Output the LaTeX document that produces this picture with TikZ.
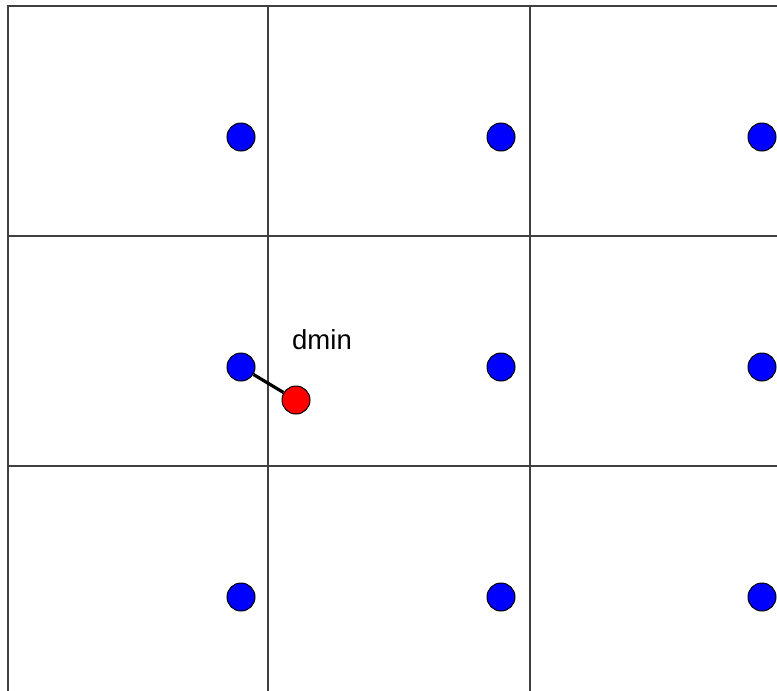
\documentclass[tikz,border=0pt]{standalone}
\usepackage{fontspec}
\setmainfont{Liberation Sans}
\tikzset{
  grille/.style={draw=black!75, line width=1.6pt},
  pointbleu/.style={circle, fill=blue, draw=black, line width=1pt, minimum size=28pt, inner sep=0pt},
  pointrouge/.style={circle, fill=red, draw=black, line width=1pt, minimum size=28pt, inner sep=0pt}
}
\begin{document}
\begin{tikzpicture}[x=1pt,y=-1pt]
  \useasboundingbox (0,0) rectangle (777,691);
  % les cases
  \draw[grille] (8,691) -- (8,6) -- (777,6);
  \draw[grille] (268,6) -- (268,691);
  \draw[grille] (530,6) -- (530,691);
  \draw[grille] (8,236) -- (777,236);
  \draw[grille] (8,466) -- (777,466);
  % les points de la grille
  \node[pointbleu] (b11) at (241,137) {};
  \node[pointbleu] (b12) at (501,137) {};
  \node[pointbleu] (b13) at (762,137) {};
  \node[pointbleu] (b21) at (241,367) {};
  \node[pointbleu] (b22) at (501,367) {};
  \node[pointbleu] (b23) at (762,367) {};
  \node[pointbleu] (b31) at (241,597) {};
  \node[pointbleu] (b32) at (501,597) {};
  \node[pointbleu] (b33) at (762,597) {};
  % le point rouge et la distance
  \node[pointrouge] (r) at (296,400) {};
  \draw[line width=3.2pt] (b21) -- (r);
  \node (dmin) at (322,340) {\fontsize{27.5}{30}\selectfont dmin};
\end{tikzpicture}
\end{document}
